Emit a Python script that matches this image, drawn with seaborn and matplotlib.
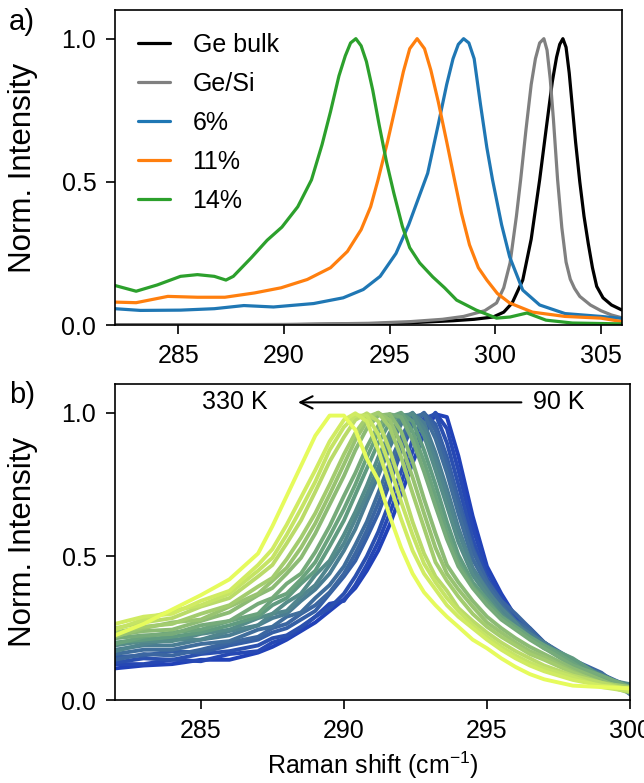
import numpy as np
import pandas as pd
import seaborn as sns
import matplotlib
matplotlib.use("Agg")
import matplotlib.pyplot as plt
from matplotlib.colors import LinearSegmentedColormap

sns.set_style("ticks")
plt.rcParams["font.family"] = ["Liberation Sans", "DejaVu Sans"]
plt.rcParams["mathtext.fontset"] = "custom"
plt.rcParams["mathtext.rm"] = "Liberation Sans"
plt.rcParams["mathtext.it"] = "Liberation Sans:italic"
for key in ["text.color", "axes.labelcolor", "xtick.color", "ytick.color", "axes.edgecolor"]:
    plt.rcParams[key] = "black"

FS = 18

# ---------------- panel a) data ----------------
ge_bulk_x = [282, 290, 294, 296, 298, 299.0, 299.9, 300.4, 300.8, 301.3, 301.7, 302.1, 302.4, 302.7, 302.9,
             303.05, 303.2, 303.35, 303.5, 303.65, 303.8, 304.0, 304.2, 304.4, 304.6, 304.8, 305.1, 305.5, 306]
ge_bulk_y = [0.0, 0.001, 0.004, 0.008, 0.015, 0.02, 0.028, 0.045, 0.077, 0.157, 0.30, 0.507, 0.68, 0.85, 0.935,
             0.98, 1.0, 0.97, 0.88, 0.76, 0.64, 0.5, 0.38, 0.285, 0.2, 0.135, 0.095, 0.07, 0.052]

ge_si_x = [282, 290, 294, 296, 297.5, 298.5, 299.5, 300.06, 300.4, 300.7, 301.0, 301.2, 301.45, 301.7, 301.9,
           302.1, 302.3, 302.45, 302.6, 302.75, 302.95, 303.15, 303.35, 303.55, 303.75, 304, 304.5, 305, 305.5, 306]
ge_si_y = [0.0, 0.002, 0.006, 0.012, 0.02, 0.03, 0.05, 0.077, 0.13, 0.217, 0.38, 0.507, 0.68, 0.84, 0.93,
           0.985, 1.0, 0.96, 0.86, 0.72, 0.507, 0.34, 0.22, 0.16, 0.128, 0.1, 0.07, 0.05, 0.035, 0.025]

s6_x = [282, 283.2, 285.1, 286.7, 288.1, 289.5, 291.4, 292.8, 293.75, 294.55, 295.3, 295.9, 296.4, 296.8,
        297.3, 297.7, 298.0, 298.25, 298.5, 298.75, 299.0, 299.3, 299.6, 299.87, 300.3, 300.68, 301.3, 302.1,
        303.3, 305, 306]
s6_y = [0.057, 0.051, 0.052, 0.057, 0.068, 0.063, 0.075, 0.095, 0.124, 0.17, 0.25, 0.35, 0.45, 0.53,
        0.7, 0.84, 0.93, 0.98, 1.0, 0.985, 0.93, 0.77, 0.62, 0.507, 0.35, 0.238, 0.122, 0.07,
        0.04, 0.03, 0.023]

s11_x = [282, 283, 284.5, 285.9, 287.2, 288.6, 289.86, 291.1, 292.2, 293.0, 293.65, 294.1, 294.45, 294.9,
         295.3, 295.65, 295.95, 296.3, 296.65, 296.95, 297.3, 297.7, 298.07, 298.4, 298.78, 299.2, 299.6, 300.1,
         300.68, 301.76, 303.3, 305, 306]
s11_y = [0.08, 0.078, 0.1, 0.097, 0.097, 0.112, 0.13, 0.159, 0.2, 0.257, 0.333, 0.413, 0.507, 0.64,
         0.77, 0.885, 0.965, 1.0, 0.965, 0.89, 0.78, 0.64, 0.507, 0.39, 0.28, 0.2, 0.157, 0.11,
         0.077, 0.045, 0.03, 0.024, 0.012]

s14_x = [282.0, 283.0, 284.0, 285.1, 285.9, 286.7, 287.25, 287.6, 288.45, 289.2, 289.9, 290.65, 291.3, 291.8,
         292.2, 292.6, 292.9, 293.15, 293.4, 293.65, 293.9, 294.2, 294.5, 294.85, 295.2, 295.6, 295.95, 296.42,
         297.04, 297.6, 298.17, 299.1, 300.06, 300.7, 301.5, 302.4, 303.65, 306.0]
s14_y = [0.138, 0.118, 0.14, 0.17, 0.176, 0.17, 0.157, 0.17, 0.235, 0.296, 0.342, 0.413, 0.507, 0.63,
         0.745, 0.87, 0.94, 0.985, 1.0, 0.975, 0.92, 0.82, 0.70, 0.57, 0.46, 0.345, 0.27, 0.217,
         0.168, 0.13, 0.087, 0.052, 0.024, 0.028, 0.042, 0.017, 0.007, 0.004]

samples = ["Ge bulk", "Ge/Si", "6%", "11%", "14%"]
sample_colors = ["black", "gray", "tab:blue", "tab:orange", "tab:green"]
top_xy = [(ge_bulk_x, ge_bulk_y), (ge_si_x, ge_si_y), (s6_x, s6_y), (s11_x, s11_y), (s14_x, s14_y)]

# ---------------- panel b) data ----------------
shift_b = [282, 283, 284, 285, 286, 287, 287.5, 288, 288.5, 289, 289.5, 290, 290.4, 290.8, 291.2, 291.6,
           292, 292.4, 292.8, 293.2, 293.6, 294, 294.5, 295, 295.5, 296, 296.5, 297, 298, 299, 300]
temps = [90, 100, 110, 130, 140, 150, 170, 180, 190, 210, 220, 230, 250, 260, 270, 290, 300, 310, 330]

i_90 = [0.11, 0.12, 0.125, 0.14, 0.14, 0.165, 0.185, 0.21, 0.24, 0.27, 0.31, 0.35, 0.39, 0.45, 0.52, 0.61,
        0.715, 0.825, 0.925, 0.995, 0.985, 0.85, 0.64, 0.465, 0.37, 0.29, 0.235, 0.185, 0.12, 0.08, 0.04]
i_100 = [0.125, 0.125, 0.14, 0.135, 0.16, 0.17, 0.20, 0.215, 0.25, 0.29, 0.335, 0.345, 0.40, 0.47, 0.55, 0.65,
         0.755, 0.865, 0.955, 1.0, 0.945, 0.80, 0.60, 0.45, 0.36, 0.29, 0.25, 0.20, 0.13, 0.075, 0.035]
i_110 = [0.13, 0.145, 0.14, 0.16, 0.17, 0.19, 0.215, 0.225, 0.255, 0.29, 0.32, 0.37, 0.43, 0.50, 0.585, 0.69,
         0.795, 0.905, 0.98, 0.995, 0.895, 0.75, 0.56, 0.425, 0.345, 0.28, 0.24, 0.19, 0.12, 0.085, 0.03]
i_130 = [0.15, 0.155, 0.17, 0.165, 0.19, 0.21, 0.235, 0.25, 0.28, 0.31, 0.37, 0.43, 0.485, 0.565, 0.65, 0.755,
         0.865, 0.955, 0.998, 0.96, 0.845, 0.70, 0.53, 0.41, 0.335, 0.275, 0.23, 0.20, 0.13, 0.09, 0.045]
i_140 = [0.14, 0.16, 0.155, 0.175, 0.20, 0.22, 0.25, 0.265, 0.30, 0.33, 0.375, 0.44, 0.51, 0.59, 0.685, 0.79,
         0.89, 0.97, 1.0, 0.94, 0.82, 0.68, 0.52, 0.415, 0.345, 0.30, 0.25, 0.20, 0.14, 0.095, 0.02]
i_150 = [0.16, 0.175, 0.175, 0.195, 0.205, 0.245, 0.255, 0.29, 0.305, 0.355, 0.40, 0.465, 0.54, 0.62, 0.72, 0.825,
         0.915, 0.985, 0.995, 0.91, 0.79, 0.65, 0.49, 0.40, 0.33, 0.275, 0.24, 0.19, 0.14, 0.08, 0.05]
i_170 = [0.175, 0.19, 0.19, 0.21, 0.225, 0.26, 0.285, 0.30, 0.345, 0.385, 0.44, 0.52, 0.595, 0.69, 0.78, 0.88,
         0.96, 0.998, 0.965, 0.86, 0.735, 0.60, 0.46, 0.385, 0.31, 0.265, 0.23, 0.20, 0.13, 0.09, 0.04]
i_180 = [0.17, 0.195, 0.21, 0.21, 0.24, 0.26, 0.30, 0.31, 0.36, 0.40, 0.47, 0.545, 0.63, 0.715, 0.81, 0.905,
         0.975, 1.0, 0.945, 0.835, 0.71, 0.585, 0.455, 0.38, 0.32, 0.27, 0.215, 0.18, 0.14, 0.085, 0.03]
i_190 = [0.19, 0.205, 0.205, 0.23, 0.245, 0.285, 0.30, 0.34, 0.37, 0.435, 0.485, 0.575, 0.655, 0.745, 0.845, 0.93,
         0.99, 0.995, 0.92, 0.80, 0.675, 0.55, 0.435, 0.365, 0.30, 0.255, 0.22, 0.19, 0.135, 0.075, 0.055]
i_210 = [0.20, 0.21, 0.22, 0.235, 0.26, 0.29, 0.33, 0.355, 0.405, 0.45, 0.535, 0.625, 0.715, 0.805, 0.895, 0.965,
         0.998, 0.97, 0.87, 0.75, 0.62, 0.505, 0.41, 0.35, 0.29, 0.25, 0.215, 0.19, 0.145, 0.08, 0.04]
i_220 = [0.195, 0.22, 0.235, 0.245, 0.275, 0.30, 0.35, 0.37, 0.42, 0.48, 0.57, 0.665, 0.75, 0.845, 0.93, 0.985,
         1.0, 0.935, 0.83, 0.71, 0.585, 0.48, 0.395, 0.34, 0.29, 0.255, 0.22, 0.19, 0.13, 0.065, 0.03]
i_230 = [0.215, 0.225, 0.23, 0.26, 0.275, 0.335, 0.355, 0.405, 0.44, 0.515, 0.605, 0.71, 0.79, 0.88, 0.955, 0.995,
         0.985, 0.905, 0.795, 0.675, 0.56, 0.465, 0.39, 0.33, 0.28, 0.245, 0.21, 0.18, 0.12, 0.085, 0.045]
i_250 = [0.225, 0.24, 0.245, 0.275, 0.305, 0.365, 0.39, 0.44, 0.495, 0.58, 0.68, 0.78, 0.87, 0.945, 0.99, 0.995,
         0.935, 0.83, 0.70, 0.58, 0.47, 0.41, 0.345, 0.29, 0.25, 0.215, 0.185, 0.16, 0.11, 0.07, 0.03]
i_260 = [0.22, 0.25, 0.27, 0.28, 0.325, 0.37, 0.415, 0.46, 0.53, 0.615, 0.715, 0.82, 0.905, 0.97, 1.0, 0.975,
         0.89, 0.775, 0.65, 0.53, 0.44, 0.385, 0.325, 0.27, 0.235, 0.20, 0.17, 0.15, 0.10, 0.055, 0.025]
i_270 = [0.235, 0.255, 0.265, 0.30, 0.33, 0.395, 0.425, 0.49, 0.565, 0.65, 0.75, 0.855, 0.93, 0.985, 1.0, 0.95,
         0.845, 0.72, 0.60, 0.48, 0.415, 0.36, 0.30, 0.255, 0.22, 0.19, 0.16, 0.14, 0.095, 0.06, 0.045]
i_290 = [0.25, 0.27, 0.285, 0.325, 0.355, 0.43, 0.47, 0.545, 0.625, 0.725, 0.83, 0.915, 0.975, 0.998, 0.97, 0.87,
         0.75, 0.62, 0.51, 0.43, 0.38, 0.32, 0.275, 0.235, 0.20, 0.17, 0.145, 0.12, 0.085, 0.06, 0.035]
i_300 = [0.245, 0.28, 0.31, 0.33, 0.37, 0.45, 0.495, 0.575, 0.665, 0.76, 0.87, 0.95, 0.99, 0.99, 0.925, 0.815,
         0.69, 0.575, 0.475, 0.41, 0.355, 0.31, 0.26, 0.22, 0.185, 0.155, 0.13, 0.11, 0.08, 0.045, 0.03]
i_310 = [0.265, 0.29, 0.30, 0.345, 0.38, 0.47, 0.525, 0.61, 0.705, 0.80, 0.90, 0.975, 0.998, 0.97, 0.87, 0.75,
         0.63, 0.52, 0.44, 0.385, 0.33, 0.29, 0.25, 0.21, 0.175, 0.145, 0.12, 0.10, 0.07, 0.05, 0.04]
i_330 = [0.225, 0.265, 0.315, 0.365, 0.42, 0.51, 0.605, 0.71, 0.815, 0.92, 0.99, 0.99, 0.94, 0.84, 0.765, 0.64,
         0.53, 0.44, 0.375, 0.33, 0.29, 0.255, 0.21, 0.18, 0.145, 0.115, 0.09, 0.072, 0.05, 0.045, 0.04]

bottom_y = [i_90, i_100, i_110, i_130, i_140, i_150, i_170, i_180, i_190, i_210, i_220, i_230, i_250,
            i_260, i_270, i_290, i_300, i_310, i_330]

# ---------------- build frames ----------------
top_df = pd.concat([pd.DataFrame({"shift": x, "intensity": y, "sample": s})
                    for s, (x, y) in zip(samples, top_xy)], ignore_index=True)
bot_df = pd.concat([pd.DataFrame({"shift": shift_b, "intensity": y, "T": t})
                    for t, y in zip(temps, bottom_y)], ignore_index=True)

cmap = LinearSegmentedColormap.from_list("temp", ["#2141b8", "#5f9b80", "#e6fb5c"])
temp_colors = {t: cmap((t - temps[0]) / (temps[-1] - temps[0])) for t in temps}

fig = plt.figure(figsize=(6.44, 7.83), dpi=100)
ax1 = fig.add_axes([0.1786, 0.5849, 0.7873, 0.4023])
ax2 = fig.add_axes([0.1786, 0.1060, 0.7997, 0.4036])

sns.lineplot(data=top_df, x="shift", y="intensity", hue="sample", hue_order=samples,
             palette=dict(zip(samples, sample_colors)), estimator=None, sort=False,
             linewidth=2.3, ax=ax1)
sns.move_legend(ax1, "upper left", frameon=False, title=None, fontsize=FS,
                handlelength=1.3, handletextpad=0.9, labelspacing=0.6, borderaxespad=0.5)

sns.lineplot(data=bot_df, x="shift", y="intensity", hue="T", palette=temp_colors,
             units="T", estimator=None, sort=False, linewidth=2.8, legend=False, ax=ax2)

ax1.set_xlim(282, 306)
ax1.set_ylim(0, 1.1)
ax1.set_xticks([285, 290, 295, 300, 305])
ax2.set_xlim(282, 300)
ax2.set_ylim(0, 1.1)
ax2.set_xticks([285, 290, 295, 300])

for ax in (ax1, ax2):
    ax.set_yticks([0, 0.5, 1.0])
    ax.tick_params(labelsize=FS, length=6.5, width=1.2, pad=7)
    ax.set_ylabel("Norm. Intensity", fontsize=22.5)
    for sp in ax.spines.values():
        sp.set_linewidth(1.2)
ax1.yaxis.set_label_coords(-0.152, 0.5)
ax2.yaxis.set_label_coords(-0.149, 0.5)
ax1.set_xlabel("")
ax2.set_xlabel("Raman shift (cm$^{-1}$)", fontsize=FS, labelpad=5)

# temperature arrow
ax2.annotate("", xy=(288.3, 1.036), xytext=(296.3, 1.036),
             arrowprops=dict(arrowstyle="->", lw=1.5, color="black", mutation_scale=22))
ax2.text(286.2, 1.036, "330 K", fontsize=FS, ha="center", va="center")
ax2.text(297.5, 1.036, "90 K", fontsize=FS, ha="center", va="center")

fig.text(0.014, 0.972, "a)", fontsize=21, ha="left", va="center")
fig.text(0.014, 0.495, "b)", fontsize=21, ha="left", va="center")

fig.savefig("out.png", dpi=100)
